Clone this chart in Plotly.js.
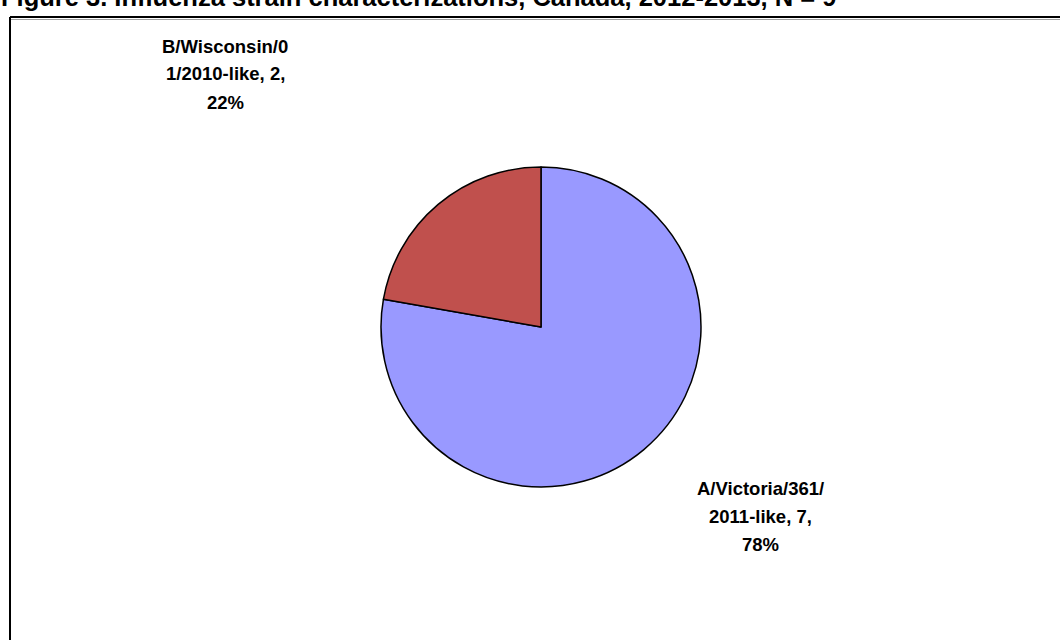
<!DOCTYPE html>
<html>
<head>
<meta charset="utf-8">
<script src="https://cdn.plot.ly/plotly-3.0.1.min.js"></script>
<style>html,body{margin:0;padding:0;background:#fff;}#chart{width:1060px;height:640px;}</style>
</head>
<body>
<div id="chart"></div>
<script>
const titleText = "Figure 3. Influenza strain characterizations, Canada, 2012-2013, N = 9";
const strains = ["A/Victoria/361/2011-like", "B/Wisconsin/01/2010-like"];
const labelLines = [["A/Victoria/361/", "2011-like"], ["B/Wisconsin/0", "1/2010-like"]];
const counts = [7, 2];
const colors = ["#9999FF", "#C0504D"];

const W = 1060, H = 640;
const px = x => x / W;
const py = y => 1 - y / H;

const total = counts.reduce((a, b) => a + b, 0);
const pct = counts.map(v => Math.round(v / total * 100));
const labelRows = counts.map((v, i) => [labelLines[i][0], labelLines[i][1] + ", " + v + ",", pct[i] + "%"]);

const labelPos = [[760, 488], [225, 46]];
const lineGap = 28;

const trace = {
  type: "pie",
  labels: strains,
  values: counts,
  sort: false,
  direction: "clockwise",
  rotation: 0,
  textinfo: "none",
  hoverinfo: "none",
  marker: { colors: colors, line: { color: "#000000", width: 1.5 } },
  domain: { x: [px(381), px(701)], y: [py(487), py(167)] },
  showlegend: false
};

const font = { family: "Liberation Sans, Arial, sans-serif", size: 18.5, color: "#000000" };

const annotations = [];
labelRows.forEach((rows, i) => {
  rows.forEach((t, j) => {
    annotations.push({
      text: "<b>" + t + "</b>", xref: "paper", yref: "paper",
      x: px(labelPos[i][0]), y: py(labelPos[i][1] + j * lineGap),
      xanchor: "center", yanchor: "middle", showarrow: false,
      align: "center", font: font
    });
  });
});
annotations.push({
  text: "<b>" + titleText + "</b>", xref: "paper", yref: "paper",
  x: px(-1), y: py(-3), xanchor: "left", yanchor: "middle", showarrow: false,
  font: { family: "Liberation Sans, Arial, sans-serif", size: 25.5, color: "#000000" }
});

const layout = {
  width: W, height: H,
  margin: { l: 0, r: 0, t: 0, b: 0 },
  paper_bgcolor: "#ffffff",
  annotations: annotations,
  shapes: [
    { type: "line", xref: "paper", yref: "paper", x0: px(10), x1: px(1070), y0: py(19.5), y1: py(19.5), line: { color: "#a0a0a0", width: 1 } },
    { type: "line", xref: "paper", yref: "paper", x0: px(10), x1: px(1070), y0: py(17), y1: py(17), line: { color: "#000000", width: 2 } },
    { type: "line", xref: "paper", yref: "paper", x0: px(10), x1: px(10), y0: py(17), y1: py(650), line: { color: "#000000", width: 2 } }
  ]
};

Plotly.newPlot("chart", [trace], layout, { staticPlot: true, displayModeBar: false });
</script>
</body>
</html>
